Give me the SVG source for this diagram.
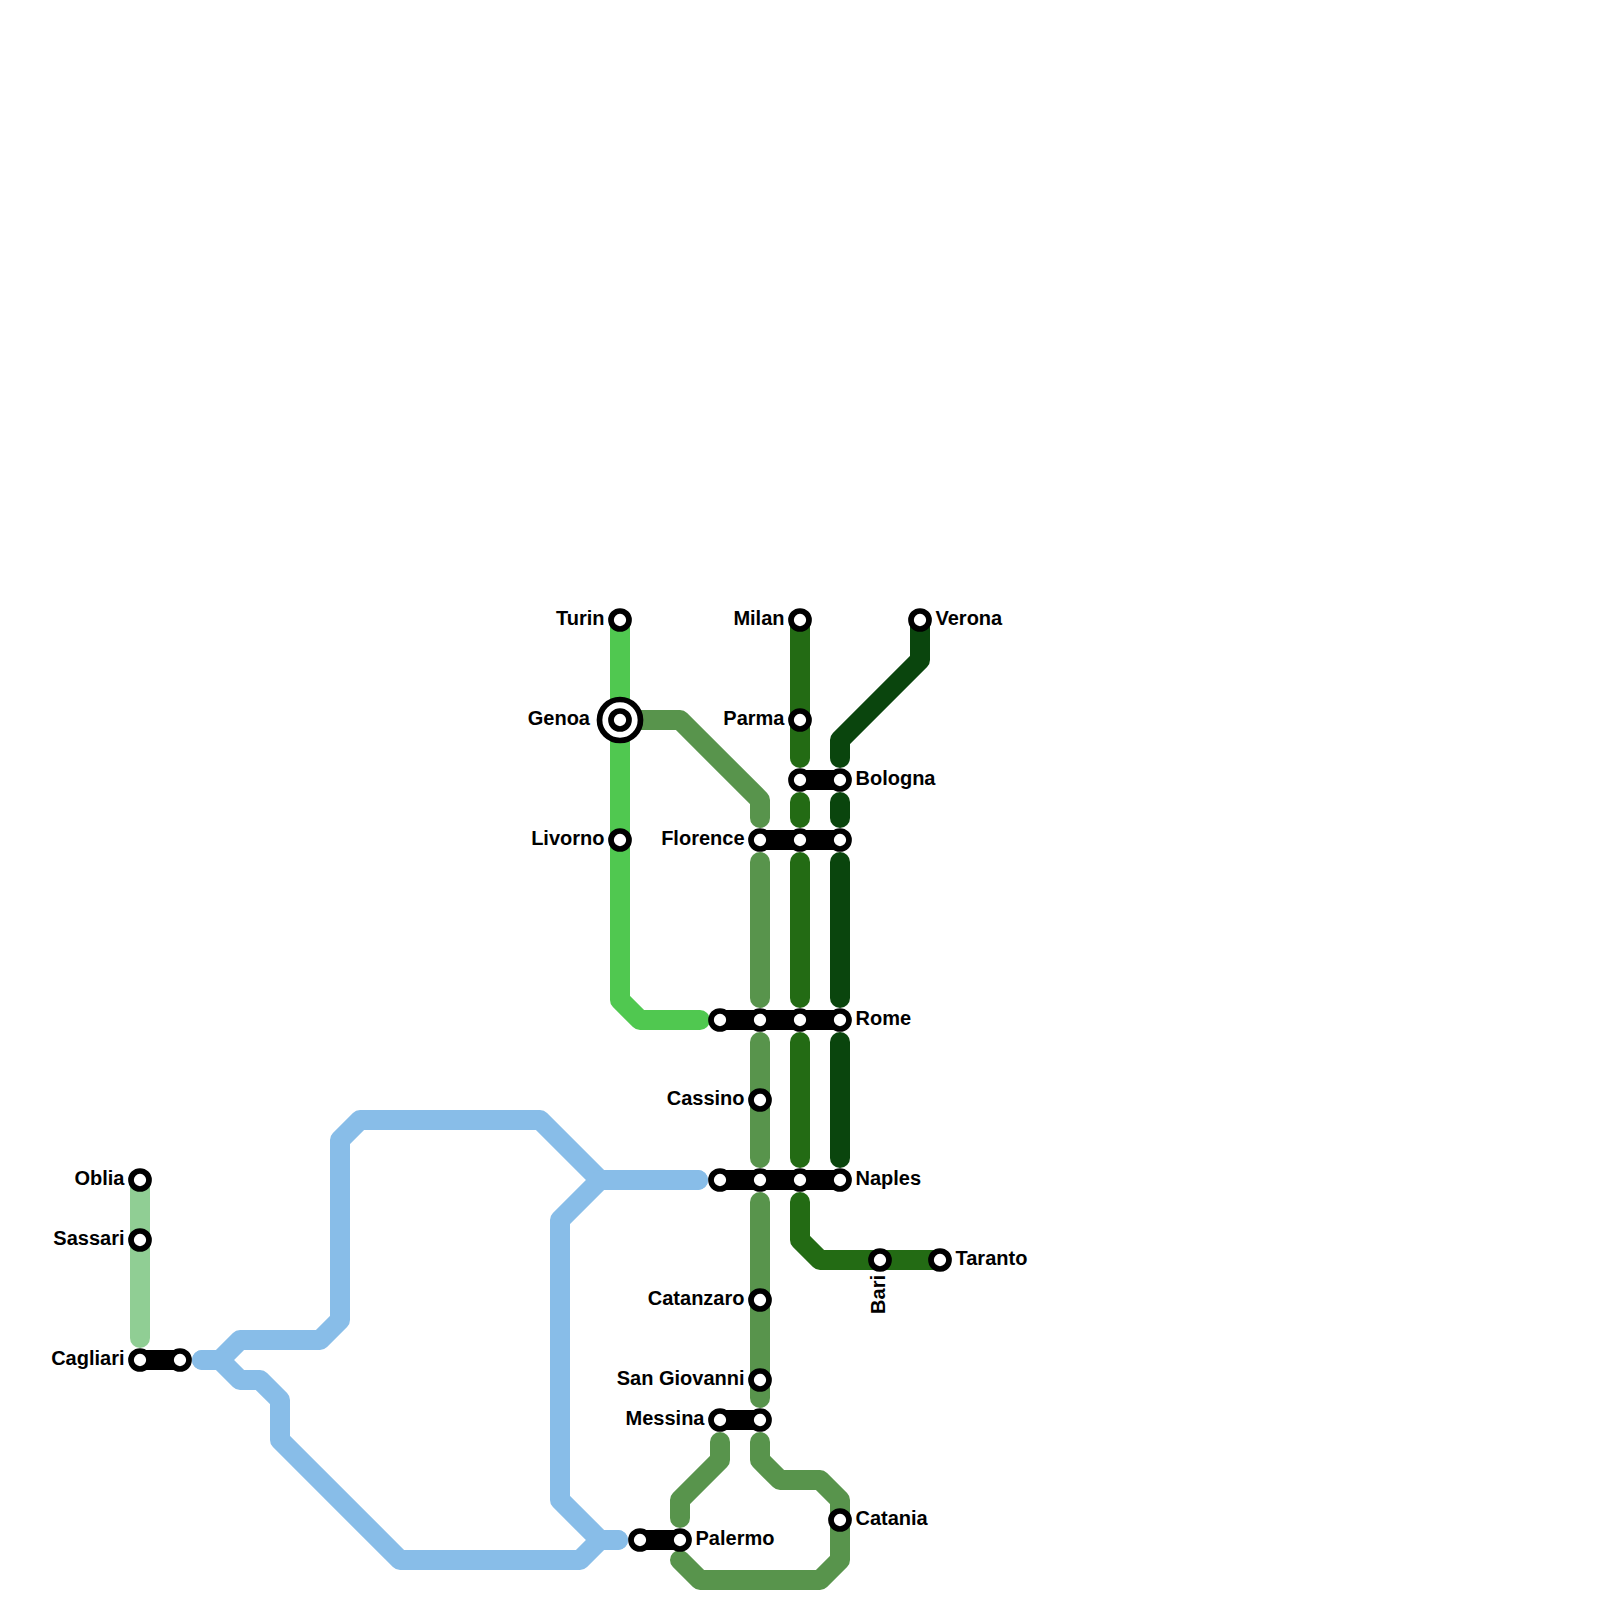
<svg xmlns="http://www.w3.org/2000/svg" width="1600" height="1600" viewBox="0 0 1600 1600">
<style>
.l{fill:none;stroke-width:20;stroke-linecap:round;stroke-linejoin:round}
.a{stroke:#50c850}.b{stroke:#58944c}.c{stroke:#236b14}.d{stroke:#0a450d}.e{stroke:#90ce94}.f{stroke:#88bde8}
.bar{stroke:#000;stroke-width:20;stroke-linecap:round;fill:none}
.s{fill:#fff;stroke:#000;stroke-width:5.7}
text{font-family:"Liberation Sans",Arial,sans-serif;font-weight:700;font-size:20px;fill:#000}
.r{text-anchor:end}
</style>
<rect width="1600" height="1600" fill="#fff"/>
<g id="connectors">
<path class="l e" d="M140 1180V1338"/>
<path class="l f" d="M202 1360H220L240 1340H320L340 1320V1140L360 1120H540L600 1180H698"/>
<path class="l f" d="M202 1360H220L240 1380H260L280 1400V1440L400 1560H580L600 1540H618"/>
<path class="l f" d="M698 1180H600L560 1220V1500L600 1540H618"/>
<path class="l a" d="M620 620V1000L640 1020H700"/>
<path class="l b" d="M620 720H680L760 800V818"/>
<path class="l b" d="M760 862V998"/>
<path class="l b" d="M760 1042V1158"/>
<path class="l b" d="M760 1202V1398"/>
<path class="l b" d="M720 1442V1460L680 1500V1518"/>
<path class="l b" d="M760 1442V1460L780 1480H820L840 1500V1560L820 1580H700L680 1560"/>
<path class="l c" d="M800 620V758"/>
<path class="l c" d="M800 802V818"/>
<path class="l c" d="M800 862V998"/>
<path class="l c" d="M800 1042V1158"/>
<path class="l c" d="M800 1202V1240L820 1260H940"/>
<path class="l d" d="M920 620V660L840 740V758"/>
<path class="l d" d="M840 802V818"/>
<path class="l d" d="M840 862V998"/>
<path class="l d" d="M840 1042V1158"/>
</g>
<g id="turin"><circle class="s" cx="620" cy="620" r="9"/><text class="r" x="604.5" y="625">Turin</text></g>
<g id="genoa"><circle class="s" cx="620" cy="720" r="20.5"/><circle class="s" cx="620" cy="720" r="9"/><text class="r" x="590" y="725">Genoa</text></g>
<g id="livorno"><circle class="s" cx="620" cy="840" r="9"/><text class="r" x="604.5" y="845">Livorno</text></g>
<g id="milan"><circle class="s" cx="800" cy="620" r="9"/><text class="r" x="784.5" y="625">Milan</text></g>
<g id="parma"><circle class="s" cx="800" cy="720" r="9"/><text class="r" x="784.5" y="725">Parma</text></g>
<g id="verona"><circle class="s" cx="920" cy="620" r="9"/><text x="935.5" y="625">Verona</text></g>
<g id="bologna"><path class="bar" d="M800 780H840"/><circle class="s" cx="800" cy="780" r="9"/><circle class="s" cx="840" cy="780" r="9"/><text x="855.5" y="785">Bologna</text></g>
<g id="florence"><path class="bar" d="M760 840H840"/><circle class="s" cx="760" cy="840" r="9"/><circle class="s" cx="800" cy="840" r="9"/><circle class="s" cx="840" cy="840" r="9"/><text class="r" x="744.5" y="845">Florence</text></g>
<g id="rome"><path class="bar" d="M720 1020H840"/><circle class="s" cx="720" cy="1020" r="9"/><circle class="s" cx="760" cy="1020" r="9"/><circle class="s" cx="800" cy="1020" r="9"/><circle class="s" cx="840" cy="1020" r="9"/><text x="855.5" y="1025">Rome</text></g>
<g id="cassino"><circle class="s" cx="760" cy="1100" r="9"/><text class="r" x="744.5" y="1105">Cassino</text></g>
<g id="naples"><path class="bar" d="M720 1180H840"/><circle class="s" cx="720" cy="1180" r="9"/><circle class="s" cx="760" cy="1180" r="9"/><circle class="s" cx="800" cy="1180" r="9"/><circle class="s" cx="840" cy="1180" r="9"/><text x="855.5" y="1185">Naples</text></g>
<g id="bari"><circle class="s" cx="880" cy="1260" r="9"/><text class="r" transform="rotate(-90 885 1275)" x="885" y="1275">Bari</text></g>
<g id="taranto"><circle class="s" cx="940" cy="1260" r="9"/><text x="955.5" y="1265">Taranto</text></g>
<g id="catanzaro"><circle class="s" cx="760" cy="1300" r="9"/><text class="r" x="744.5" y="1305">Catanzaro</text></g>
<g id="san-giovanni"><circle class="s" cx="760" cy="1380" r="9"/><text class="r" x="744.5" y="1385">San Giovanni</text></g>
<g id="messina"><path class="bar" d="M720 1420H760"/><circle class="s" cx="720" cy="1420" r="9"/><circle class="s" cx="760" cy="1420" r="9"/><text class="r" x="704.5" y="1425">Messina</text></g>
<g id="catania"><circle class="s" cx="840" cy="1520" r="9"/><text x="855.5" y="1525">Catania</text></g>
<g id="palermo"><path class="bar" d="M640 1540H680"/><circle class="s" cx="640" cy="1540" r="9"/><circle class="s" cx="680" cy="1540" r="9"/><text x="695.5" y="1545">Palermo</text></g>
<g id="oblia"><circle class="s" cx="140" cy="1180" r="9"/><text class="r" x="124.5" y="1185">Oblia</text></g>
<g id="sassari"><circle class="s" cx="140" cy="1240" r="9"/><text class="r" x="124.5" y="1245">Sassari</text></g>
<g id="cagliari"><path class="bar" d="M140 1360H180"/><circle class="s" cx="140" cy="1360" r="9"/><circle class="s" cx="180" cy="1360" r="9"/><text class="r" x="124.5" y="1365">Cagliari</text></g>
</svg>
